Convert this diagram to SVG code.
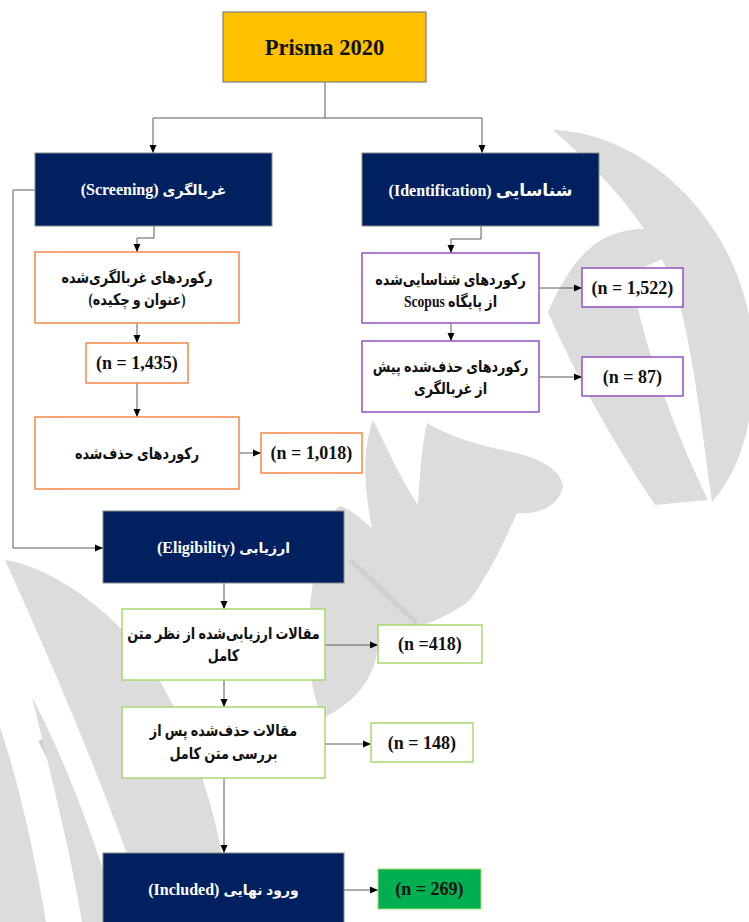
<svg xmlns="http://www.w3.org/2000/svg" width="749" height="922" viewBox="0 0 749 922">
  <defs>
    <marker id="arr" viewBox="0 0 8 8" refX="8" refY="4" markerWidth="8" markerHeight="8" markerUnits="userSpaceOnUse" orient="auto">
      <path d="M0,0.5 L8,4 L0,7.5 Z" fill="#000"/>
    </marker>
    <style>
      .wm { fill: #dcdcdc; }
      .navy { fill: #002060; stroke: #8a8a8a; stroke-width: 1; }
      .orange { fill: #fff; stroke: #f4894a; stroke-width: 1.5; }
      .purple { fill: #fff; stroke: #9150c4; stroke-width: 1.5; }
      .green { fill: #fff; stroke: #a8d870; stroke-width: 1.5; }
      .conn { fill: none; stroke: #5a5a5a; stroke-width: 1; }
      .lbl { font-family: "Liberation Serif", "DejaVu Sans", serif; font-weight: bold; text-anchor: middle; }
      .w { fill: #fff; font-size: 16px; }
      .fa { font-size: 14px; }
      .fal { font-size: 17px; }
      .k { fill: #111; font-size: 16px; }
      .en { font-size: 17px; }
      .n { fill: #111; font-size: 18px; }
      .title { fill: #111; font-size: 22.5px; }
    </style>
  </defs>

  <!-- background calligraphy watermark -->
  <g id="watermark">
    <path class="wm" d="M553,130 C640,132 738,215 752,335 C758,415 742,468 712,502 C703,440 696,370 680,305 C660,235 610,180 553,130 Z"/>
    <path class="wm" d="M588,250 C612,226 660,222 688,240 C668,260 645,266 630,272 C642,335 665,410 708,500 L655,505 C612,440 575,375 548,312 C560,285 574,262 588,250 Z"/>
    <path class="wm" d="M323,718 C303,680 305,600 322,540 C327,522 333,510 340,506 C352,510 361,519 372,528 C364,490 362,450 373,420 C386,446 401,480 418,505 C420,470 422,445 427,423 C452,438 482,446 512,452 C540,458 561,470 563,486 C560,505 540,515 517,513 C504,542 490,572 470,600 C445,620 410,630 378,640 C378,672 360,700 323,718 Z"/>
    <path d="M350,560 L417,623" stroke="#d0d0d0" stroke-width="5" fill="none"/>
    <path class="wm" d="M5,560 C45,566 100,600 140,650 C190,720 222,820 232,922 L150,922 C118,820 64,690 5,560 Z"/>
    <path d="M40,740 C70,800 100,860 120,922" stroke="#d0d0d0" stroke-width="4" fill="none"/>
    <path class="wm" d="M32,697 C65,760 100,850 118,922 L82,922 C70,850 52,780 32,697 Z"/>
    <path class="wm" d="M0,727 C18,780 36,860 46,922 L0,922 Z"/>
  </g>

  <!-- connectors -->
  <g id="connectors">
    <path class="conn" d="M325,82 V118 M153,118 H482"/>
    <path class="conn" d="M153,118 V153" marker-end="url(#arr)"/>
    <path class="conn" d="M482,118 V153" marker-end="url(#arr)"/>
    <path class="conn" d="M154,226 V238 H137 V252" marker-end="url(#arr)"/>
    <path class="conn" d="M137,323 V343" marker-end="url(#arr)"/>
    <path class="conn" d="M137,383 V417" marker-end="url(#arr)"/>
    <path class="conn" d="M239,453 H261" marker-end="url(#arr)"/>
    <path class="conn" d="M35,190 H13 V548 H103" marker-end="url(#arr)"/>
    <path class="conn" d="M481,226 V239 H451 V253" marker-end="url(#arr)"/>
    <path class="conn" d="M539,288 H582" marker-end="url(#arr)"/>
    <path class="conn" d="M451,323 V341" marker-end="url(#arr)"/>
    <path class="conn" d="M539,377 H582" marker-end="url(#arr)"/>
    <path class="conn" d="M224,583 V609" marker-end="url(#arr)"/>
    <path class="conn" d="M325,645 H378" marker-end="url(#arr)"/>
    <path class="conn" d="M224,680 V707" marker-end="url(#arr)"/>
    <path class="conn" d="M325,744 H371" marker-end="url(#arr)"/>
    <path class="conn" d="M224,778 V853" marker-end="url(#arr)"/>
    <path class="conn" d="M344,890 H378" marker-end="url(#arr)"/>
  </g>

  <!-- title -->
  <g id="prisma">
    <rect x="223" y="12" width="203" height="70" fill="#ffc000" stroke="#7f7f7f" stroke-width="1.2"/>
    <text class="lbl title" x="324.5" y="55">Prisma 2020</text>
  </g>

  <!-- stage headers -->
  <g id="screening">
    <rect class="navy" x="35" y="153" width="237" height="73"/>
    <text class="lbl w" x="153.5" y="195" direction="rtl"><tspan class="fa">غربالگری</tspan> (Screening)</text>
  </g>
  <g id="identification">
    <rect class="navy" x="362" y="153" width="237" height="73"/>
    <text class="lbl w" x="480.5" y="196" direction="rtl"><tspan class="fal">شناسایی</tspan> (Identification)</text>
  </g>
  <g id="eligibility">
    <rect class="navy" x="103" y="511" width="241" height="72"/>
    <text class="lbl w" x="223.5" y="553" direction="rtl"><tspan class="fa">ارزیابی</tspan> (Eligibility)</text>
  </g>
  <g id="included">
    <rect class="navy" x="103" y="853" width="241" height="75"/>
    <text class="lbl w" x="223.5" y="895" direction="rtl"><tspan class="fa">ورود نهایی</tspan> (Included)</text>
  </g>

  <!-- screening branch -->
  <g id="screened-records">
    <rect class="orange" x="35" y="252" width="204" height="71"/>
    <g transform="translate(137 0) scale(0.8 1)">
      <text class="lbl k" x="0" y="283" direction="rtl">رکوردهای غربالگری‌شده</text>
      <text class="lbl k" x="0" y="305" direction="rtl">(عنوان و چکیده)</text>
    </g>
  </g>
  <g id="screened-count">
    <rect class="orange" x="86" y="343" width="102" height="40"/>
    <text class="lbl n" x="137" y="369">(n = 1,435)</text>
  </g>
  <g id="excluded-records">
    <rect class="orange" x="35" y="417" width="204" height="72"/>
    <g transform="translate(137 0) scale(0.8 1)">
      <text class="lbl k" x="0" y="459" direction="rtl">رکوردهای حذف‌شده</text>
    </g>
  </g>
  <g id="excluded-count">
    <rect class="orange" x="261" y="433" width="101" height="40"/>
    <text class="lbl n" x="311.5" y="459">(n = 1,018)</text>
  </g>

  <!-- identification branch -->
  <g id="identified-records">
    <rect class="purple" x="362" y="253" width="177" height="70"/>
    <g transform="translate(450.5 0) scale(0.8 1)">
      <text class="lbl k" x="0" y="285" direction="rtl">رکوردهای شناسایی‌شده</text>
      <text class="lbl k" x="0" y="307" direction="rtl">از پایگاه <tspan class="en">Scopus</tspan></text>
    </g>
  </g>
  <g id="identified-count">
    <rect class="purple" x="582" y="268" width="101" height="39"/>
    <text class="lbl n" x="632.5" y="294">(n = 1,522)</text>
  </g>
  <g id="removed-records">
    <rect class="purple" x="362" y="341" width="177" height="71"/>
    <g transform="translate(450.5 0) scale(0.8 1)">
      <text class="lbl k" x="0" y="372" direction="rtl">رکوردهای حذف‌شده پیش</text>
      <text class="lbl k" x="0" y="394" direction="rtl">از غربالگری</text>
    </g>
  </g>
  <g id="removed-count">
    <rect class="purple" x="582" y="357" width="101" height="39"/>
    <text class="lbl n" x="632.5" y="383">(n = 87)</text>
  </g>

  <!-- eligibility branch -->
  <g id="assessed-articles">
    <rect class="green" x="122" y="609" width="203" height="71"/>
    <g transform="translate(223.5 0) scale(0.8 1)">
      <text class="lbl k" x="0" y="639" direction="rtl">مقالات ارزیابی‌شده از نظر متن</text>
      <text class="lbl k" x="0" y="661" direction="rtl">کامل</text>
    </g>
  </g>
  <g id="assessed-count">
    <rect class="green" x="378" y="625" width="104" height="38"/>
    <text class="lbl n" x="430" y="650">(n =418)</text>
  </g>
  <g id="excluded-articles">
    <rect class="green" x="122" y="707" width="203" height="71"/>
    <g transform="translate(223.5 0) scale(0.8 1)">
      <text class="lbl k" x="0" y="736" direction="rtl">مقالات حذف‌شده پس از</text>
      <text class="lbl k" x="0" y="759" direction="rtl">بررسی متن کامل</text>
    </g>
  </g>
  <g id="excluded-articles-count">
    <rect class="green" x="371" y="723" width="102" height="39"/>
    <text class="lbl n" x="422" y="749">(n = 148)</text>
  </g>
  <g id="included-count">
    <rect x="378" y="869" width="103" height="40" fill="#00b050" stroke="#a8d870" stroke-width="1"/>
    <text class="lbl n" x="429.5" y="895">(n = 269)</text>
  </g>
</svg>
